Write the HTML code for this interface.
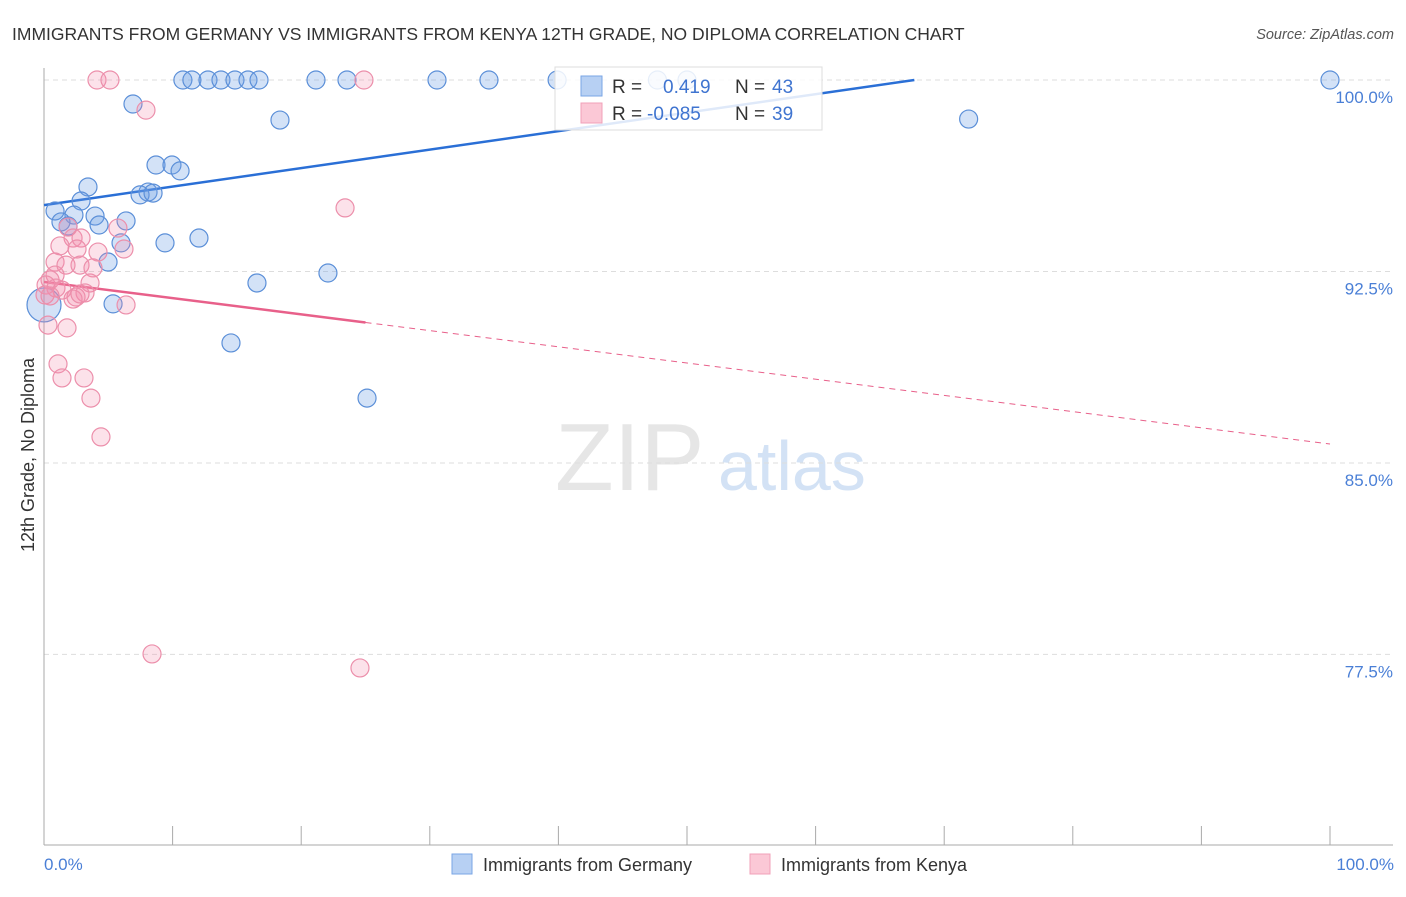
<!DOCTYPE html>
<html><head><meta charset="utf-8"><style>
body{margin:0;background:#fff;font-family:"Liberation Sans",sans-serif}
svg text{font-family:"Liberation Sans",sans-serif}
</style></head><body>
<svg width="1406" height="892" viewBox="0 0 1406 892">
<text x="12" y="40" font-size="17.5" fill="#333">IMMIGRANTS FROM GERMANY VS IMMIGRANTS FROM KENYA 12TH GRADE, NO DIPLOMA CORRELATION CHART</text>
<text x="1394" y="39" font-size="14.5" fill="#555" text-anchor="end" font-style="italic">Source: ZipAtlas.com</text>
<text x="555" y="490" font-size="96" fill="#e6e6e6" font-family="Liberation Serif">ZIP</text>
<text x="718" y="490" font-size="70" fill="#d3e2f5">atlas</text>
<g id="grid"></g>
<g id="axes"></g>
<g id="lines"></g>
<g id="pts"></g>
<text transform="translate(34,455) rotate(-90)" font-size="18" fill="#333" text-anchor="middle">12th Grade, No Diploma</text>
<text x="44" y="870" font-size="17" fill="#4a7fd6">0.0%</text>
<text x="1394" y="870" font-size="17" fill="#4a7fd6" text-anchor="end">100.0%</text>
<g>
<rect x="555" y="67" width="267" height="63" fill="#fff" fill-opacity="0.85" stroke="#ddd"/>
<rect x="581" y="76" width="21" height="20" fill="#b7d0f3" stroke="#7aa6e6"/>
<rect x="581" y="103" width="21" height="20" fill="#fbc8d6" stroke="#f0a0b8"/>
<text x="612" y="93" font-size="19" fill="#333">R =</text><text x="663" y="93" font-size="19" fill="#3f74d0">0.419</text>
<text x="735" y="93" font-size="19" fill="#333">N =</text><text x="772" y="93" font-size="19" fill="#3f74d0">43</text>
<text x="612" y="120" font-size="19" fill="#333">R =</text><text x="647" y="120" font-size="19" fill="#3f74d0">-0.085</text>
<text x="735" y="120" font-size="19" fill="#333">N =</text><text x="772" y="120" font-size="19" fill="#3f74d0">39</text>
</g>
<g><rect x="452" y="854" width="20" height="20" fill="#b7d0f3" stroke="#7aa6e6"/><text x="483" y="871" font-size="18" fill="#333">Immigrants from Germany</text></g>
<g><rect x="750" y="854" width="20" height="20" fill="#fbc8d6" stroke="#f0a0b8"/><text x="781" y="871" font-size="18" fill="#333">Immigrants from Kenya</text></g>
</svg>
<script>
const yTicks=[100,92.5,85,77.5];
const yTickLabels=["100.0%","92.5%","85.0%","77.5%"];
const germanyX=[10.8,11.5,12.75,13.76,14.85,15.86,16.72,21.15,23.56,30.56,34.6,39.9,47.7,50.0,100,6.92,18.35,71.9,8.71,9.95,10.58,3.42,8.09,7.47,8.48,2.88,0.86,2.33,3.97,6.38,1.32,1.87,4.28,5.99,9.41,12.05,4.98,22.08,16.56,5.37,14.54,25.12,0];
const germanyY=[100,100,100,100,100,100,100,100,100,100,100,100,100,100,100,99.06,98.43,98.47,96.67,96.67,96.44,95.81,95.61,95.5,95.57,95.26,94.87,94.71,94.67,94.48,94.44,94.28,94.32,93.62,93.62,93.81,92.87,92.44,92.05,91.23,89.7,87.54,91.19];
const kenyaX=[4.12,5.13,24.88,7.93,23.41,1.87,5.75,2.26,2.88,1.24,2.57,6.22,4.2,0.86,1.71,2.8,3.81,0.86,0.47,0.16,0.93,1.4,3.58,3.19,2.49,2.26,6.38,1.79,0.31,1.09,1.4,3.11,3.65,4.43,8.4,24.57,0.08,2.8,0.47];
const kenyaY=[100,100,100,98.82,94.99,94.24,94.2,93.81,93.81,93.5,93.38,93.38,93.26,92.87,92.75,92.75,92.64,92.36,92.17,91.97,91.85,91.77,92.05,91.66,91.5,91.42,91.19,90.29,90.4,88.88,88.33,88.33,87.54,86.02,77.52,76.97,91.58,91.62,91.54];
const germanyTrend=[95.1,0.0724];
const kenyaTrend=[92.09,-0.0635];
const NS="http://www.w3.org/2000/svg";
const X=v=>44+v*12.86, Y=v=>80+(100-v)*25.53;
function mk(t,a,p){const e=document.createElementNS(NS,t);for(const k in a)e.setAttribute(k,a[k]);p.appendChild(e);return e;}
const grid=document.getElementById('grid'),axes=document.getElementById('axes'),lines=document.getElementById('lines'),pts=document.getElementById('pts');
yTicks.forEach((t,i)=>{
 const l=mk('line',{x1:44,x2:1393,y1:Y(t),y2:Y(t),stroke:'#ddd','stroke-dasharray':'5,4'},grid);
 
 
 const tx=mk('text',{x:1393,y:Y(t)+23,'font-size':17,fill:'#4a7fd6','text-anchor':'end'},grid);
 tx.textContent=yTickLabels[i];
 
 
});
const ax=mk('line',{x1:44,x2:1393,y1:845,y2:845,stroke:'#aaa'},axes);


const ay=mk('line',{x1:44,x2:44,y1:68,y2:845,stroke:'#aaa'},axes);


for(let i=0;i<=10;i++){const tk=mk('line',{x1:X(i*10),x2:X(i*10),y1:826,y2:845,stroke:'#aaa'},axes);
 
 }
// trend lines
const gEnd=Math.min(100,(100-germanyTrend[0])/germanyTrend[1]);
const gl=mk('line',{x1:X(0),y1:Y(germanyTrend[0]),x2:X(gEnd),y2:Y(germanyTrend[0]+germanyTrend[1]*gEnd),stroke:'#2a6fd6','stroke-width':2.5},lines);


const kMax=25;
const kl=mk('line',{x1:X(0),y1:Y(kenyaTrend[0]),x2:X(kMax),y2:Y(kenyaTrend[0]+kenyaTrend[1]*kMax),stroke:'#e8608a','stroke-width':2.5},lines);


const kd=mk('line',{x1:X(kMax),y1:Y(kenyaTrend[0]+kenyaTrend[1]*kMax),x2:X(100),y2:Y(kenyaTrend[0]+kenyaTrend[1]*100),stroke:'#e8608a','stroke-width':1,'stroke-dasharray':'6,5'},lines);


germanyX.forEach((x,i)=>{const r=(x===0)?17:9;
 const c=mk('circle',{cx:X(x),cy:Y(germanyY[i]),r:r,fill:'rgba(110,160,230,0.3)',stroke:'#5b8fd8','stroke-width':1.2},pts);
 
 });
kenyaX.forEach((x,i)=>{const r=(x<0.2&&kenyaY[i]<91)?14:9;
 const c=mk('circle',{cx:X(x),cy:Y(kenyaY[i]),r:r,fill:'rgba(245,140,170,0.25)',stroke:'#ec8fab','stroke-width':1.2},pts);
 
 });
</script>
</body></html>
